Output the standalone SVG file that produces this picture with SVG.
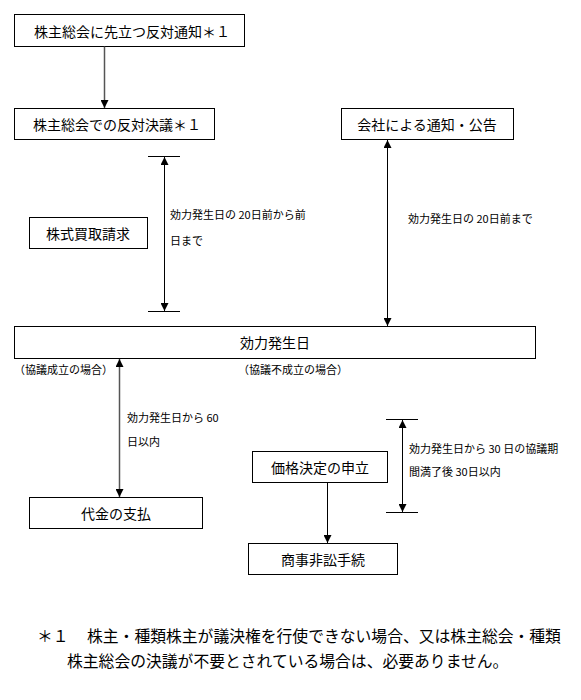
<svg xmlns="http://www.w3.org/2000/svg" width="581" height="700" viewBox="0 0 581 700">
<style>
.box{fill:#fff;stroke:#000;stroke-width:1}
.t{font-family:"Noto Sans CJK JP","Noto Sans CJK SC",sans-serif;font-size:14px;fill:#000;dominant-baseline:central}
.c{text-anchor:middle}
.s{font-family:"Noto Sans CJK JP","Noto Sans CJK SC",sans-serif;font-size:11px;fill:#000;dominant-baseline:central}
.f{font-family:"Noto Sans CJK JP","Noto Sans CJK SC",sans-serif;font-size:15.8px;fill:#000;dominant-baseline:central}
.ln{stroke:#000;stroke-width:1;fill:none}
.gr{stroke:#555;stroke-width:1.5;fill:none}
.tick{stroke:#000;stroke-width:1}
</style>
<defs>
<marker id="ah" viewBox="0 0 10 10" refX="10" refY="5" markerWidth="8" markerHeight="8" markerUnits="userSpaceOnUse" orient="auto-start-reverse">
<path d="M0,0 L10,5 L0,10 z" fill="#000"/>
</marker>
</defs>
<rect width="581" height="700" fill="#fff"/>
<g id="n1"><rect class="box" x="14.5" y="14.5" width="230" height="32"/><text class="t" x="34" y="30.5">株主総会に先立つ反対通知＊１</text></g>
<g id="n2"><rect class="box" x="14.5" y="108.5" width="200" height="31"/><text class="t" x="33" y="124">株主総会での反対決議＊１</text></g>
<g id="n3"><rect class="box" x="341.5" y="108.5" width="172" height="31"/><text class="t c" x="427" y="124">会社による通知・公告</text></g>
<g id="n4"><rect class="box" x="29.5" y="217.5" width="118" height="31"/><text class="t c" x="88" y="233">株式買取請求</text></g>
<g id="n5"><rect class="box" x="14.5" y="326.5" width="521" height="32"/><text class="t c" x="275" y="342">効力発生日</text></g>
<g id="n6"><rect class="box" x="29.5" y="497.5" width="173" height="31"/><text class="t c" x="116" y="513">代金の支払</text></g>
<g id="n7"><rect class="box" x="252.5" y="451.5" width="135" height="31"/><text class="t c" x="320" y="467">価格決定の申立</text></g>
<g id="n8"><rect class="box" x="248.5" y="543.5" width="149" height="31"/><text class="t c" x="323" y="559">商事非訟手続</text></g>
<g id="connectors">
<line class="gr" x1="104.5" y1="46.5" x2="104.5" y2="108" marker-end="url(#ah)"/>
<line class="ln" x1="387.5" y1="140" x2="387.5" y2="326" marker-start="url(#ah)" marker-end="url(#ah)"/>
<line class="tick" x1="148" y1="156.5" x2="180" y2="156.5"/>
<line class="tick" x1="148" y1="311.5" x2="180" y2="311.5"/>
<line class="ln" x1="164.5" y1="157" x2="164.5" y2="311" marker-start="url(#ah)" marker-end="url(#ah)"/>
<line class="gr" x1="119.5" y1="359" x2="119.5" y2="497" marker-start="url(#ah)" marker-end="url(#ah)"/>
<line class="ln" x1="327.5" y1="483" x2="327.5" y2="543" marker-end="url(#ah)"/>
<line class="tick" x1="386" y1="419.5" x2="418" y2="419.5"/>
<line class="tick" x1="386" y1="512.5" x2="418" y2="512.5"/>
<line class="ln" x1="402.5" y1="420" x2="402.5" y2="512" marker-start="url(#ah)" marker-end="url(#ah)"/>
</g>
<g id="labels">
<text class="s" x="170" y="214">効力発生日の 20日前から前</text>
<text class="s" x="170" y="240">日まで</text>
<text class="s" x="408" y="218">効力発生日の 20日前まで</text>
<text class="s" x="14" y="369">（協議成立の場合）</text>
<text class="s" x="238" y="369">（協議不成立の場合）</text>
<text class="s" x="127" y="417">効力発生日から 60</text>
<text class="s" x="127" y="441">日以内</text>
<text class="s" x="409" y="448">効力発生日から 30 日の協議期</text>
<text class="s" x="409" y="471">間満了後 30日以内</text>
</g>
<g id="footnote">
<text class="f" x="37" y="635">＊１</text>
<text class="f" x="87" y="635">株主・種類株主が議決権を行使できない場合、又は株主総会・種類</text>
<text class="f" x="67" y="660">株主総会の決議が不要とされている場合は、必要ありません。</text>
</g>
</svg>
